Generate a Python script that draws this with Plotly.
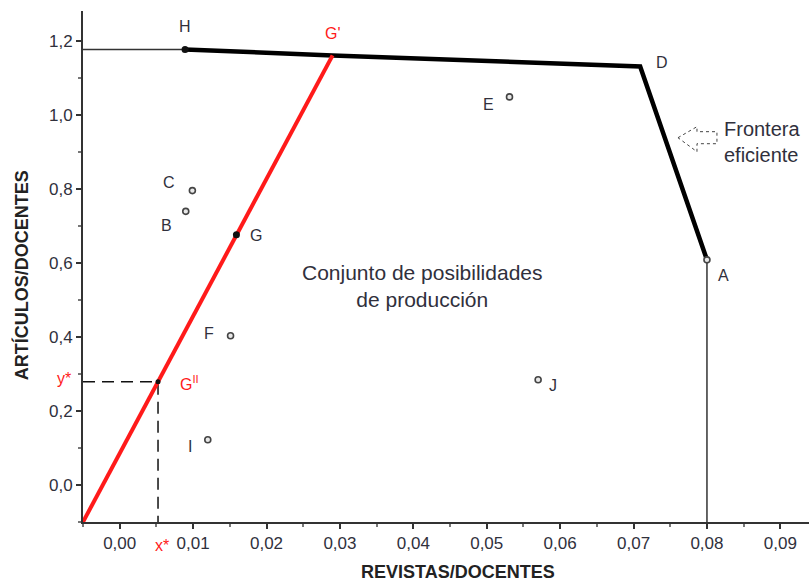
import plotly.graph_objects as go

# Unidades productivas (DMU): revistas por docente vs. artículos por docente
dmu_names = ["A", "B", "C", "D", "E", "F", "G", "H", "I", "J"]
revistas = [0.0800, 0.0090, 0.0099, 0.0709, 0.0531, 0.0151, 0.0159, 0.0089, 0.0120, 0.0570]
articulos = [0.608, 0.739, 0.795, 1.130, 1.048, 0.403, 0.676, 1.176, 0.122, 0.284]

# Frontera eficiente: H -> G' -> D -> A
frontier_x = [0.0089, 0.0290, 0.0709, 0.0800]
frontier_y = [1.176, 1.160, 1.130, 0.608]

# Rayo de proyección desde el origen de los ejes, pasando por G'' y G hasta G'
ray_x = [-0.005, 0.00522, 0.0159, 0.0290]
ray_y = [-0.100, 0.279, 0.676, 1.160]

# Proyección G'' (x*, y*)
x_star, y_star = 0.00522, 0.279

x_range = [-0.005, 0.0939]
y_range = [-0.100, 1.280]

x_ticks = [0.00, 0.01, 0.02, 0.03, 0.04, 0.05, 0.06, 0.07, 0.08, 0.09]
y_ticks = [0.0, 0.2, 0.4, 0.6, 0.8, 1.0, 1.2]

FONT = "Liberation Sans, Arial, sans-serif"
TXT = "#30303c"
RED = "#ff1a1a"

fig = go.Figure()

# Prolongaciones horizontal (desde H) y vertical (desde A)
fig.add_trace(go.Scatter(x=[x_range[0], frontier_x[0]], y=[frontier_y[0]] * 2,
                         mode="lines", line=dict(color="#333333", width=1.5),
                         hoverinfo="skip", showlegend=False))
fig.add_trace(go.Scatter(x=[frontier_x[-1]] * 2, y=[y_range[0], frontier_y[-1]],
                         mode="lines", line=dict(color="#333333", width=1.5),
                         hoverinfo="skip", showlegend=False))

# Líneas discontinuas hacia x* e y*
fig.add_trace(go.Scatter(x=[x_range[0], x_star, x_star], y=[y_star, y_star, y_range[0]],
                         mode="lines", line=dict(color="#111111", width=1.5, dash="12px,7px"),
                         hoverinfo="skip", showlegend=False))

# Frontera eficiente
fig.add_trace(go.Scatter(x=frontier_x, y=frontier_y, mode="lines",
                         line=dict(color="#000000", width=4.5),
                         hoverinfo="skip", showlegend=False))

# Rayo rojo
fig.add_trace(go.Scatter(x=[ray_x[0], ray_x[-1]], y=[ray_y[0], ray_y[-1]], mode="lines",
                         line=dict(color=RED, width=4),
                         hoverinfo="skip", showlegend=False))

# Unidades: huecas, salvo H y G (rellenas); D queda como vértice de la frontera
filled = {"H", "G"}
hx = [x for n, x in zip(dmu_names, revistas) if n not in filled and n != "D"]
hy = [y for n, y in zip(dmu_names, articulos) if n not in filled and n != "D"]
fig.add_trace(go.Scatter(x=hx, y=hy, mode="markers",
                         marker=dict(size=6, color="#e8e8e8", line=dict(color="#444444", width=1.6)),
                         showlegend=False))
fx = [x for n, x in zip(dmu_names, revistas) if n in filled]
fy = [y for n, y in zip(dmu_names, articulos) if n in filled]
fig.add_trace(go.Scatter(x=fx, y=fy, mode="markers",
                         marker=dict(size=7, color="#111111"), showlegend=False))
fig.add_trace(go.Scatter(x=[x_star], y=[y_star], mode="markers",
                         marker=dict(size=5, color="#111111"), showlegend=False))

# Etiquetas de las unidades (desplazamientos en píxeles)
label_offsets = {
    "A": (17, -16), "B": (-19, -14), "C": (-23, 8), "D": (22, 4), "E": (-21, -8),
    "F": (-22, 2), "G": (20, -1), "H": (0, 23), "I": (-18, -7), "J": (15, -6),
}
for n, x, y in zip(dmu_names, revistas, articulos):
    dx, dy = label_offsets[n]
    fig.add_annotation(x=x, y=y, text=n, showarrow=False, xshift=dx, yshift=dy,
                       font=dict(family=FONT, size=16, color=TXT))

# Etiquetas en rojo
fig.add_annotation(x=ray_x[-1], y=ray_y[-1], text="G'", showarrow=False, xshift=0, yshift=22,
                   font=dict(family=FONT, size=16, color=RED))
fig.add_annotation(x=x_star, y=y_star, text="G<sup>II</sup>", showarrow=False, xshift=31, yshift=-1,
                   font=dict(family=FONT, size=16, color=RED))
fig.add_annotation(x=x_range[0], y=y_star, text="y*", showarrow=False, xshift=-19, yshift=3,
                   font=dict(family=FONT, size=16, color=RED))
fig.add_annotation(x=x_star, y=y_range[0], text="x*", showarrow=False, xshift=4, yshift=-23,
                   font=dict(family=FONT, size=16, color=RED))

# Texto de la región factible
fig.add_annotation(x=0.0412, y=0.537, text="Conjunto de posibilidades<br>de producción",
                   showarrow=False, align="center",
                   font=dict(family=FONT, size=21, color=TXT))

# Leyenda de la frontera con flecha hueca
fig.add_annotation(x=0.0821, y=0.927, text="Frontera<br>eficiente", showarrow=False,
                   align="left", xanchor="left",
                   font=dict(family=FONT, size=20, color=TXT))


def px_x(p):
    return (p - 120) / 7337.5


def px_y(p):
    return (485 - p) / 370


arrow_px = [(678, 138), (697, 127), (697, 132), (717, 132), (717, 144), (697, 144), (697, 152)]
path = "M " + " L ".join(f"{px_x(a):.5f},{px_y(b):.4f}" for a, b in arrow_px) + " Z"
fig.add_shape(type="path", path=path, xref="x", yref="y",
              line=dict(color="#444444", width=1, dash="dot"), fillcolor="white")

# Títulos de los ejes
fig.add_annotation(xref="paper", yref="paper", x=0.5165, y=-0.098, yanchor="middle",
                   text="<b>REVISTAS/DOCENTES</b>", showarrow=False,
                   font=dict(family=FONT, size=18, color="#222222"))
fig.add_annotation(xref="paper", yref="paper", x=-0.0854, y=0.483, xanchor="center",
                   yanchor="middle", textangle=-90,
                   text="<b>ARTÍCULOS/DOCENTES</b>", showarrow=False,
                   font=dict(family=FONT, size=18, color="#222222"))

axis_common = dict(
    showgrid=False, zeroline=False, showline=True, linecolor="#333333", linewidth=2,
    ticks="outside", ticklen=5, tickwidth=1.5, tickcolor="#333333",
    tickfont=dict(family=FONT, size=17, color=TXT),
)

fig.update_xaxes(range=x_range, tickvals=x_ticks, tickformat=".2f",
                 minor=dict(dtick=0.005, tick0=0, ticks="outside", ticklen=3, tickcolor="#777777"),
                 **axis_common)
fig.update_yaxes(range=y_range, tickvals=y_ticks, tickformat=".1f",
                 minor=dict(dtick=0.1, tick0=0, ticks="outside", ticklen=3, tickcolor="#777777"),
                 **axis_common)

fig.update_layout(
    width=809, height=584,
    margin=dict(l=83, r=0, t=11, b=62),
    plot_bgcolor="white", paper_bgcolor="white",
    separators=",.",
    showlegend=False,
)

fig.write_html("out.html")
